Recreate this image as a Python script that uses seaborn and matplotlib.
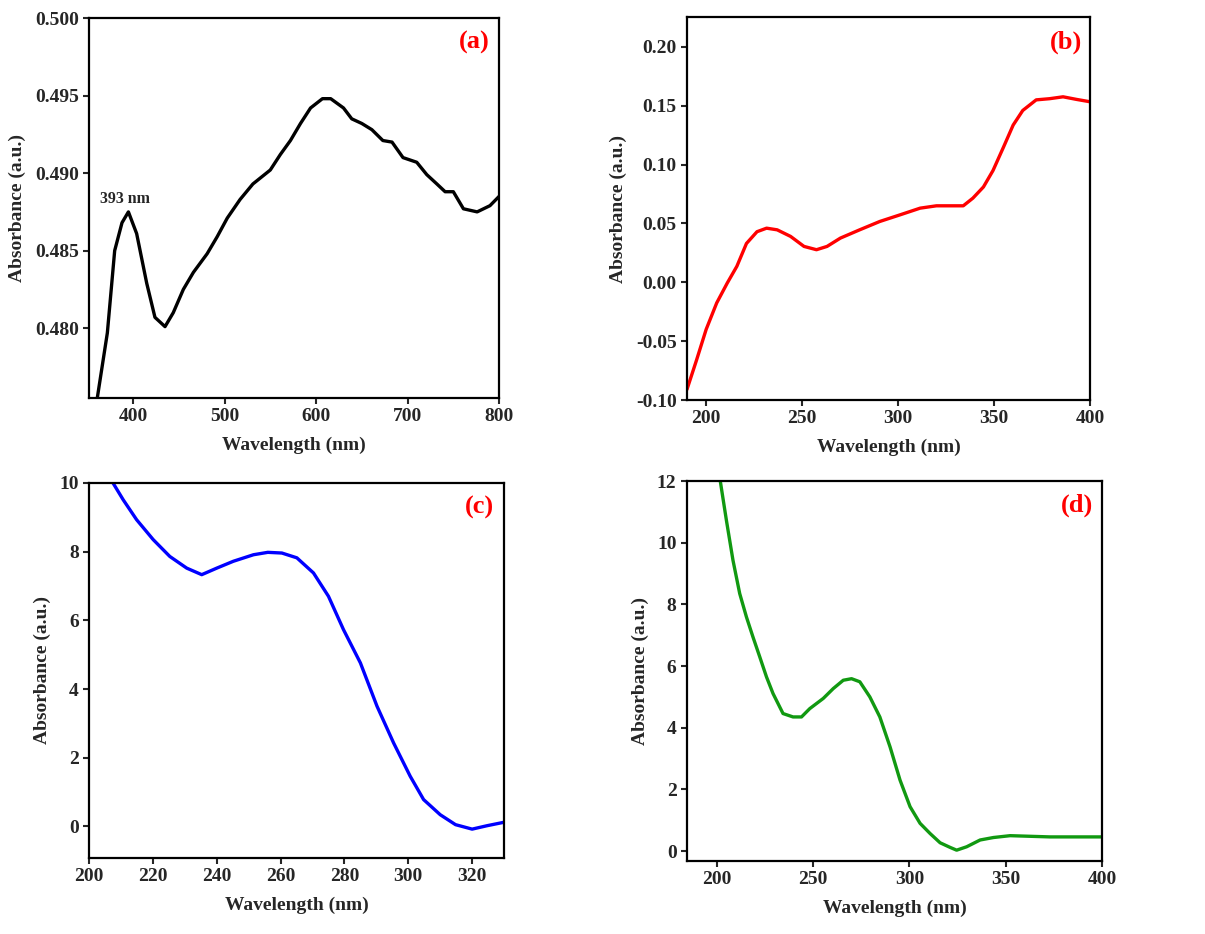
import numpy as np
import pandas as pd
import matplotlib
matplotlib.use("Agg")
import matplotlib.pyplot as plt
import seaborn as sns

# Panel (a) - black
wl_a = [361, 372, 380, 388, 395, 404, 415, 424, 435, 444, 455, 466, 481, 492, 503,
        517, 531, 550, 561, 572, 583, 594, 607, 616, 630, 639, 650, 661, 673, 683,
        695, 710, 721, 732, 741, 750, 761, 776, 790, 800]
abs_a = [0.4755, 0.4797, 0.4850, 0.4868, 0.4875, 0.4861, 0.4829, 0.4807, 0.4801, 0.4810,
         0.4825, 0.4836, 0.4848, 0.4859, 0.4871, 0.4883, 0.4893, 0.4902, 0.4912, 0.4921,
         0.4932, 0.4942, 0.4948, 0.4948, 0.4942, 0.4935, 0.4932, 0.4928, 0.4921, 0.4920,
         0.4910, 0.4907, 0.4899, 0.4893, 0.4888, 0.4888, 0.4877, 0.4875, 0.4879, 0.4885]

# Panel (b) - red
wl_b = [190, 195, 200, 205.5, 211, 216, 221, 226.5, 231.5, 237, 244, 251, 257.5, 263,
        270, 280, 290.5, 301, 311.5, 320, 329, 334, 339, 344.5, 349.5, 355, 360, 365,
        372, 379, 386, 393, 400]
abs_b = [-0.091, -0.066, -0.040, -0.0175, -0.0006, 0.0136, 0.033, 0.043, 0.046, 0.0446,
         0.039, 0.0305, 0.0277, 0.0305, 0.0376, 0.0446, 0.0517, 0.0573, 0.063, 0.065,
         0.065, 0.065, 0.0715, 0.081, 0.095, 0.115, 0.1336, 0.146, 0.155, 0.156, 0.1576,
         0.1554, 0.1534]

# Panel (c) - blue
wl_c = [207.5, 210.7, 214.9, 220.1, 225.3, 230.6, 235.3, 240, 245.2, 251.5, 256, 260.4,
        265.1, 270.3, 275, 279.7, 285, 290.2, 295.4, 300.6, 304.8, 310, 314.8, 320,
        324.7, 330]
abs_c = [10.0, 9.51, 8.93, 8.35, 7.86, 7.52, 7.33, 7.52, 7.72, 7.91, 7.98, 7.96,
         7.82, 7.38, 6.70, 5.73, 4.76, 3.50, 2.43, 1.46, 0.78, 0.34, 0.05, -0.08,
         0.02, 0.12]

# Panel (d) - green
wl_d = [201.7, 204.9, 208.3, 211.8, 215.3, 218.7, 222.2, 225.7, 229.1, 234.3, 239.5,
        243.9, 248.2, 255.2, 260.4, 265.6, 269.9, 274.2, 279.4, 284.6, 289.9, 295.1,
        300.3, 305.5, 310.7, 315.9, 321.1, 324.5, 329.7, 336.7, 343.6, 352.3, 357.5,
        373, 400]
abs_d = [12.0, 10.72, 9.43, 8.35, 7.59, 6.94, 6.30, 5.65, 5.11, 4.46, 4.35, 4.35, 4.62,
         4.95, 5.27, 5.54, 5.59, 5.49, 5.0, 4.35, 3.38, 2.30, 1.44, 0.90, 0.57, 0.27,
         0.12, 0.03, 0.14, 0.36, 0.44, 0.50, 0.49, 0.46, 0.46]

sns.set_theme(style="ticks")
plt.rcParams['font.family'] = ['Liberation Serif', 'DejaVu Serif']
plt.rcParams['font.weight'] = 'bold'
plt.rcParams['axes.labelweight'] = 'bold'

fig = plt.figure(figsize=(12.05, 9.34), dpi=100)

panels = [
    dict(x=wl_a, y=abs_a, color='black', label='(a)', pos=[0.0739, 0.5739, 0.3403, 0.4068],
         xlim=(352, 800), ylim=(0.4755, 0.500), xticks=[400, 500, 600, 700, 800],
         yticks=[0.480, 0.485, 0.490, 0.495, 0.500], yfmt='{:.3f}'),
    dict(x=wl_b, y=abs_b, color='red', label='(b)', pos=[0.5701, 0.5717, 0.3344, 0.4101],
         xlim=(190, 400), ylim=(-0.10, 0.2254), xticks=[200, 250, 300, 350, 400],
         yticks=[-0.10, -0.05, 0.00, 0.05, 0.10, 0.15, 0.20], yfmt='{:.2f}'),
    dict(x=wl_c, y=abs_c, color='blue', label='(c)', pos=[0.0739, 0.0814, 0.3444, 0.4015],
         xlim=(200, 330), ylim=(-0.92, 10), xticks=[200, 220, 240, 260, 280, 300, 320],
         yticks=[0, 2, 4, 6, 8, 10], yfmt='{:.0f}'),
    dict(x=wl_d, y=abs_d, color='#119911', label='(d)', pos=[0.5701, 0.0782, 0.3444, 0.4068],
         xlim=(184.4, 400), ylim=(-0.32, 12), xticks=[200, 250, 300, 350, 400],
         yticks=[0, 2, 4, 6, 8, 10, 12], yfmt='{:.0f}'),
]

for p in panels:
    ax = fig.add_axes(p['pos'])
    df = pd.DataFrame({'Wavelength': p['x'], 'Absorbance': p['y']})
    sns.lineplot(data=df, x='Wavelength', y='Absorbance', color=p['color'],
                 linewidth=2.4, ax=ax, sort=False)
    ax.set_xlim(*p['xlim'])
    ax.set_ylim(*p['ylim'])
    ax.set_xticks(p['xticks'])
    ax.set_yticks(p['yticks'])
    ax.set_yticklabels([p['yfmt'].format(v) for v in p['yticks']])
    ax.set_xlabel('Wavelength (nm)', fontsize=14, fontweight='bold', labelpad=8)
    ax.set_ylabel('Absorbance (a.u.)', fontsize=14, fontweight='bold', labelpad=6)
    ax.tick_params(axis='both', labelsize=14, width=1.5, length=4.5, pad=3, direction='out')
    for s in ax.spines.values():
        s.set_linewidth(1.6)
        s.set_color('black')
    for lbl in ax.get_xticklabels() + ax.get_yticklabels():
        lbl.set_fontweight('bold')
    ax.text(0.94, 0.935, p['label'], transform=ax.transAxes, color='red',
            fontsize=19, fontweight='bold', ha='center', va='center')
    if p['label'] == '(a)':
        ax.text(391, 0.4883, '393 nm', fontsize=11.5, fontweight='bold', ha='center', va='center')

fig.savefig('out.png', dpi=100)
